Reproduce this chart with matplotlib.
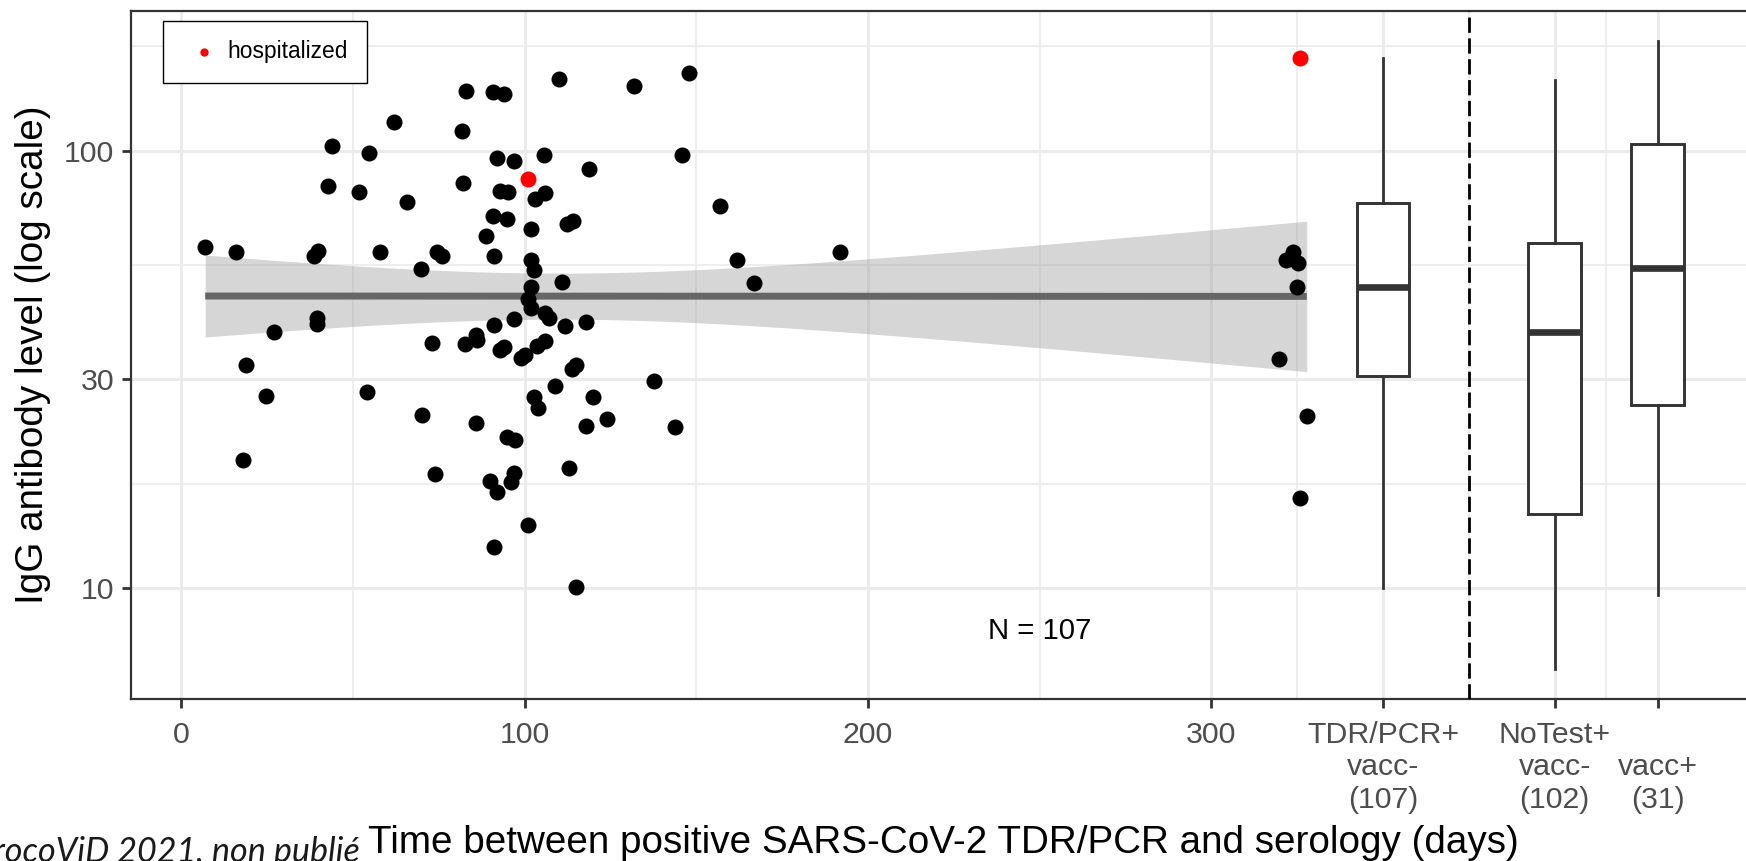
import numpy as np
import matplotlib.pyplot as plt
from matplotlib.ticker import FixedLocator, NullFormatter

plt.rcParams['font.family'] = ['Liberation Sans', 'DejaVu Sans']

# days between positive test and serology, IgG level
days = [7.0, 15.9, 43.9, 54.8, 61.9, 42.9, 51.8, 65.8, 38.7, 40.0, 57.9, 69.9,
        74.6, 76.1, 39.7, 39.7, 26.9, 18.9, 24.8, 18.0, 73.0, 54.0, 70.0, 73.9,
        82.9, 90.7, 94.1, 109.9, 131.9, 147.9, 81.9, 91.9, 96.9, 105.8, 118.8,
        145.8, 82.0, 92.9, 95.1, 103.1, 106.0, 157.0, 90.8, 95.0, 88.8, 101.9,
        112.5, 114.1, 91.0, 101.9, 102.9, 101.9, 110.9, 100.9, 101.9, 106.0,
        107.0, 96.8, 91.0, 111.8, 117.8, 161.9, 82.6, 85.8, 86.3, 92.9, 94.1,
        98.9, 100.2, 103.6, 106.0, 113.8, 114.9, 137.8, 108.9, 102.9, 103.8,
        119.8, 85.9, 94.8, 97.1, 117.8, 124.0, 143.9, 90.0, 91.9, 96.0, 97.0,
        113.0, 101.0, 91.0, 114.9, 166.9, 191.9, 323.9, 321.7, 325.1, 325.0,
        319.8, 327.8, 325.9]
igg = [60.2, 58.6, 102.5, 99.0, 116, 83.2, 80.5, 76.3, 57.3, 59.1, 58.6, 53.6,
       58.6, 57.3, 41.5, 40.2, 38.5, 32.4, 27.5, 19.6, 36.4, 28.1, 24.9, 18.2,
       137, 136, 134.6, 145.8, 140.8, 150.3, 111.1, 96.4, 94.7, 97.6, 90.8,
       97.8, 84.5, 81.0, 80.6, 77.4, 79.9, 74.8, 71.0, 69.7, 63.9, 66.1,
       68.0, 69.1, 57.5, 56.1, 53.4, 48.9, 50.2, 45.8, 43.6, 42.5,
       41.4, 41.2, 40.0, 39.8, 40.5, 56.3, 36.2, 37.9, 36.9, 35.0, 35.6,
       33.5, 34.1, 35.8, 36.8, 31.7, 32.4, 29.8, 28.9, 27.3, 25.8,
       27.3, 23.9, 22.1, 21.8, 23.5, 24.4, 23.3, 17.6, 16.6, 17.5, 18.3,
       18.8, 13.95, 12.4, 10.05, 49.9, 58.6, 58.8, 56.1, 55.3, 48.7,
       33.4, 24.7, 16.1]
hosp_days = [100.9, 325.9]
hosp_igg = [86.3, 163.1]

# boxplot summaries per group
box_pos = [350, 400, 430]
box_whislo = [10.0, 6.53, 9.65]
box_q1 = [30.6, 14.8, 26.2]
box_med = [48.7, 38.5, 53.9]
box_q3 = [75.8, 61.6, 103.8]
box_whishi = [163.0, 144.8, 178.0]

x_ticks = [0, 100, 200, 300, 350, 400, 430]
x_labels = ['0', '100', '200', '300', 'TDR/PCR+\nvacc-\n(107)',
            'NoTest+\nvacc-\n(102)', '\nvacc+\n(31)']
y_ticks = [10, 30, 100]
y_labels = ['10', '30', '100']

# linear fit on log10 scale, 95% CI (like geom_smooth(method="lm"))
x_all = np.array(days + hosp_days)
ly = np.log10(np.array(igg + hosp_igg))
n = len(x_all)
slope, icpt = np.polyfit(x_all, ly, 1)
resid = ly - (slope * x_all + icpt)
s = np.sqrt(np.sum(resid ** 2) / (n - 2))
xbar = x_all.mean()
sxx = np.sum((x_all - xbar) ** 2)
xs = np.linspace(x_all.min(), x_all.max(), 100)
pred = slope * xs + icpt
se = s * np.sqrt(1 / n + (xs - xbar) ** 2 / sxx)
t95 = 1.983

W, H = 1746, 861
fig = plt.figure(figsize=(W / 100, H / 100), dpi=100)
ax = fig.add_axes([131 / W, 162 / H, 1616 / W, 688 / H])
ax.set_yscale('log')
ax.set_xlim(-14.6, 456)
ax.set_ylim(5.58, 208.5)

ax.set_axisbelow(True)
ax.grid(which='major', color='#EBEBEB', lw=2.2)
ax.grid(which='minor', color='#EBEBEB', lw=1.2)

ax.fill_between(xs, 10 ** (pred - t95 * se), 10 ** (pred + t95 * se),
                color='#999999', alpha=0.4, lw=0, zorder=2)
ax.plot(xs, 10 ** pred, color='#666666', lw=5, zorder=2.5, solid_capstyle='butt')

ax.scatter(days, igg, s=133, color='black', lw=0, zorder=3)
red = ax.scatter(hosp_days, hosp_igg, s=133, color='#FF0000', lw=0, zorder=3,
                 label='hospitalized')

stats = []
for i in range(len(box_pos)):
    stats.append(dict(whislo=box_whislo[i], q1=box_q1[i], med=box_med[i],
                      q3=box_q3[i], whishi=box_whishi[i]))
ax.bxp(stats, positions=box_pos, widths=15.3, showfliers=False, showcaps=False,
       patch_artist=True, manage_ticks=False,
       boxprops=dict(facecolor='white', edgecolor='#333333', lw=2.1),
       whiskerprops=dict(color='#333333', lw=2.0),
       medianprops=dict(color='#333333', lw=4.8, solid_capstyle='butt'),
       zorder=3)

ax.axvline(375, color='black', lw=2.0, dashes=(5.5, 2), zorder=3)
ax.text(250, 8.0, 'N = 107', ha='center', va='center', fontsize=21.2, color='black')

ax.set_xticks(x_ticks)
ax.set_xticklabels(x_labels, linespacing=1.22)
ax.xaxis.set_minor_locator(FixedLocator([50, 150, 250, 325, 375, 415]))
ax.set_yticks(y_ticks)
ax.set_yticklabels(y_labels)
ax.yaxis.set_minor_locator(FixedLocator([np.sqrt(3 * 10), np.sqrt(10 * 30),
                                         np.sqrt(30 * 100), np.sqrt(100 * 300)]))
ax.yaxis.set_minor_formatter(NullFormatter())
ax.tick_params(which='minor', length=0)
ax.tick_params(which='major', length=6.5, width=2, color='#333333',
               labelsize=21.8, labelcolor='#4D4D4D')
ax.tick_params(axis='x', pad=9)
ax.tick_params(axis='y', pad=5.5)

for side in ['left', 'top', 'bottom']:
    ax.spines[side].set_color('#333333')
    ax.spines[side].set_linewidth(1.6)
ax.spines['right'].set_visible(False)

leg = ax.legend(handles=[red], labels=['hospitalized'], loc='upper left',
                bbox_to_anchor=(162.7 / W, 1 - 21 / H), bbox_transform=fig.transFigure,
                borderaxespad=0, borderpad=0.85, handlelength=1.9, handletextpad=0.1,
                markerscale=0.52, fontsize=16.4, frameon=True, fancybox=False,
                edgecolor='black', framealpha=1)
leg.get_frame().set_linewidth(1.0)

fig.text(943 / W, 1 - 853 / H,
         'Time between positive SARS-CoV-2 TDR/PCR and serology (days)',
         ha='center', va='baseline', fontsize=27.8, color='black')
fig.text(33 / W, 1 - 355 / H, 'IgG antibody level (log scale)', rotation=90,
         ha='center', va='center', fontsize=27.8, color='black')
fig.text(360 / W, -1 / H, 'ProcoViD 2021, non publié', ha='right', va='baseline',
         fontsize=24.6, style='italic', family=['Lato', 'DejaVu Sans'], color='#1A1A1A')

fig.savefig('out.png', dpi=100)
